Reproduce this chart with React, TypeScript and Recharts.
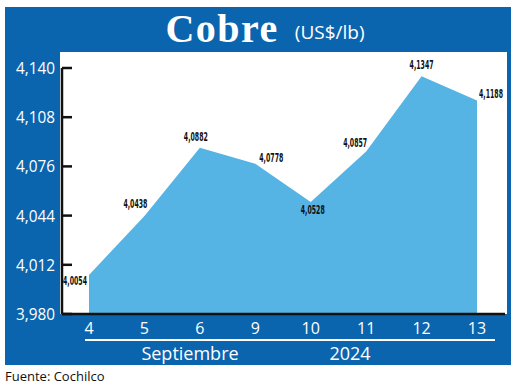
import { Area, AreaChart, LabelList, XAxis, YAxis } from "recharts";

const days = ["4", "5", "6", "9", "10", "11", "12", "13"];
const prices = [4.0054, 4.0438, 4.0882, 4.0778, 4.0528, 4.0857, 4.1347, 4.1188];
const yTicks = [3.98, 4.012, 4.044, 4.076, 4.108, 4.14];

// where each value label sits relative to its point
const labelOffsets = [
  [-14, 6],
  [-9, -12],
  [-4, -11],
  [16, -6],
  [2, 7],
  [-11, -9],
  [0, -12],
  [14, -7],
];

const data = days.map((d, i) => ({ day: d, value: prices[i] }));

const BLUE = "#0b65ae";
const fmt = (v: number, n: number) => v.toFixed(n).replace(".", ",");

const YTick = (props: any) => {
  const { y, payload } = props;
  return (
    <g>
      <line x1={62} x2={72} y1={y} y2={y} stroke="#111" strokeWidth={2.5} />
      <text
        x={55}
        y={y}
        dy={6}
        textAnchor="end"
        fill="#fff"
        fontSize={17}
        fontFamily="'Open Sans', sans-serif"
        textLength={39}
        lengthAdjust="spacingAndGlyphs"
      >
        {fmt(payload.value, 3)}
      </text>
    </g>
  );
};

const XTick = (props: any) => {
  const { x, y, payload } = props;
  return (
    <text x={x} y={y} dy={12} textAnchor="middle" fill="#fff" fontSize={16} fontFamily="'Open Sans', sans-serif">
      {payload.value}
    </text>
  );
};

const ValueLabel = (props: any) => {
  const { x, y, index, value } = props;
  const [dx, dy] = labelOffsets[index];
  return (
    <text
      x={x + dx}
      y={y + dy}
      dy={4.5}
      textAnchor="middle"
      fill="#111"
      fontSize={13}
      fontWeight="bold"
      fontFamily="'DejaVu Sans', sans-serif"
      textLength={24}
      lengthAdjust="spacingAndGlyphs"
    >
      {fmt(value, 4)}
    </text>
  );
};

export default function App() {
  return (
    <div style={{ position: "absolute", left: 0, top: 0, width: 520, height: 387, background: "#fff" }}>
      {/* marco azul */}
      <div style={{ position: "absolute", left: 5, top: 7, width: 506, height: 358, background: BLUE }} />
      {/* area blanca del grafico */}
      <div style={{ position: "absolute", left: 60, top: 52, width: 447, height: 262, background: "#fff" }} />

      {/* titulo */}
      <div
        style={{
          position: "absolute",
          left: 12,
          top: 7,
          width: 506,
          height: 44,
          display: "flex",
          alignItems: "center",
          justifyContent: "center",
          color: "#fff",
        }}
      >
        <span
          style={{
            fontFamily: "'Liberation Serif', serif",
            fontWeight: "bold",
            fontSize: 40,
            letterSpacing: 1.5,
            marginRight: 16,
            lineHeight: 1,
          }}
        >
          Cobre
        </span>
        <span style={{ fontFamily: "'Open Sans', sans-serif", fontSize: 19, marginTop: 6, lineHeight: 1 }}>(US$/lb)</span>
      </div>

      <div style={{ position: "absolute", left: 0, top: 0 }}>
        <AreaChart width={520} height={387} data={data} margin={{ top: 68, right: 15, bottom: 0, left: 0 }}>
          <XAxis
            dataKey="day"
            height={73}
            padding={{ left: 27, right: 28 }}
            axisLine={{ stroke: "#111", strokeWidth: 2.5 }}
            tickLine={false}
            tick={<XTick />}
            interval={0}
          />
          <YAxis
            width={62}
            domain={[3.98, 4.14]}
            ticks={yTicks}
            axisLine={{ stroke: "#111", strokeWidth: 2.5 }}
            tickLine={false}
            tick={<YTick />}
            interval={0}
          />
          <Area
            type="linear"
            dataKey="value"
            stroke="none"
            fill="#55b4e4"
            fillOpacity={1}
            isAnimationActive={false}
          >
            <LabelList dataKey="value" content={<ValueLabel />} />
          </Area>
        </AreaChart>
      </div>

      {/* linea blanca y fechas */}
      <div style={{ position: "absolute", left: 85, top: 339, width: 410, height: 1.5, background: "#fff" }} />
      <div
        style={{
          position: "absolute",
          left: 130,
          top: 344,
          width: 120,
          textAlign: "center",
          color: "#fff",
          fontSize: 18,
          lineHeight: 1,
          fontFamily: "'Open Sans', sans-serif",
        }}
      >
        Septiembre
      </div>
      <div
        style={{
          position: "absolute",
          left: 310,
          top: 344,
          width: 80,
          textAlign: "center",
          color: "#fff",
          fontSize: 18,
          lineHeight: 1,
          fontFamily: "'Open Sans', sans-serif",
        }}
      >
        2024
      </div>

      <div
        style={{
          position: "absolute",
          left: 5,
          top: 369,
          color: "#111",
          fontSize: 13,
          lineHeight: 1.2,
          fontFamily: "'Open Sans', sans-serif",
        }}
      >
        Fuente: Cochilco
      </div>
    </div>
  );
}
